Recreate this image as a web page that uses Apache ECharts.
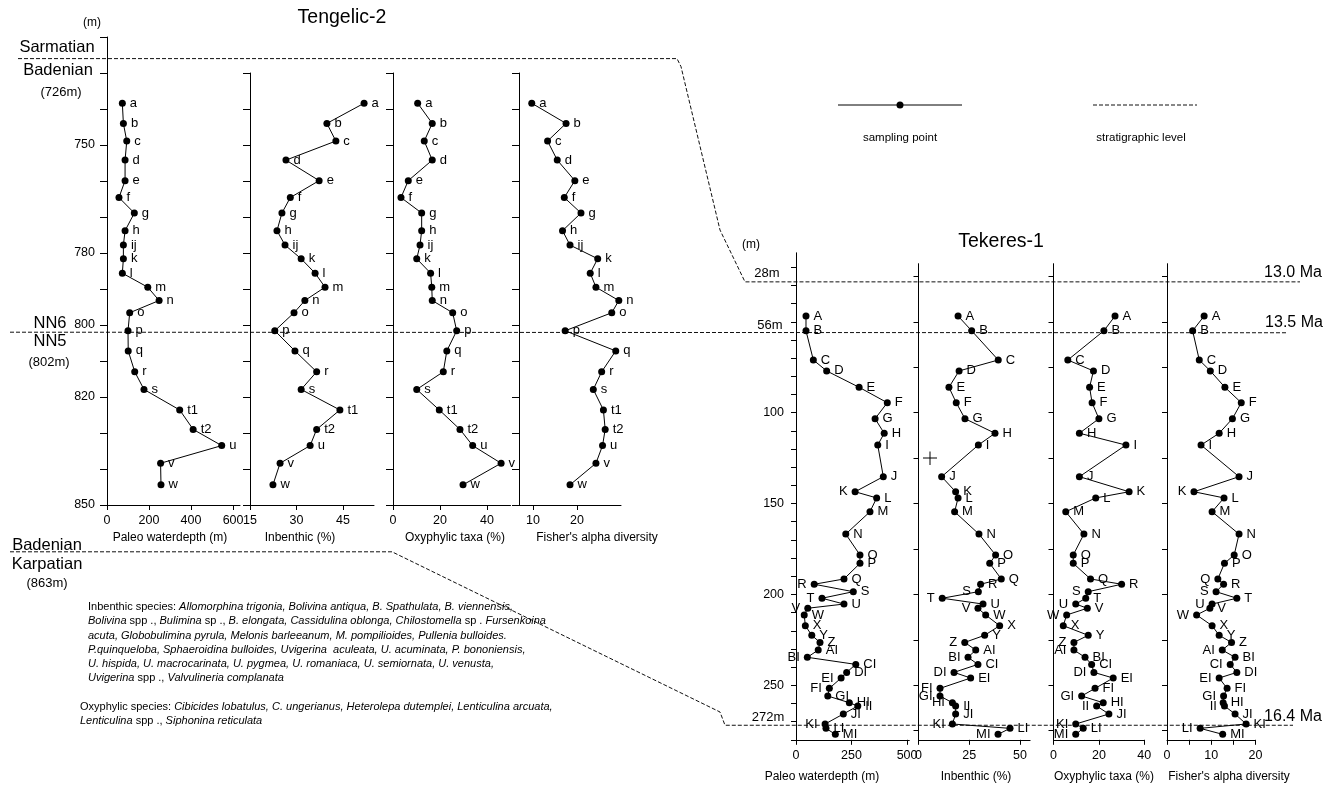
<!DOCTYPE html>
<html><head><meta charset="utf-8">
<script src="https://cdn.jsdelivr.net/npm/echarts@6/dist/echarts.min.js"></script>
<style>html,body{margin:0;padding:0;background:#fff}#c{width:1325px;height:787px}</style>
</head><body><div id="c"></div>
<script>
// ---------------- DATA ----------------
// Tengelic-2 borehole
const tengelicSamples = ['a','b','c','d','e','f','g','h','ij','k','l','m','n','o','p','q','r','s','t1','t2','u','v','w'];
const tengelicDepth = [738.4,744,748.9,754.2,759.9,764.6,768.9,773.8,777.8,781.6,785.6,789.5,793.2,796.6,801.6,807.2,813,817.9,823.6,829,833.5,838.4,844.4];
const tengelicPaleo = [73,78,94,86,86,57,130,86,78,78,73,194,248,108,100,101,132,176,346,410,546,255,257];
const tengelicInbenthic = [51.8,39.8,42.7,26.6,37.3,28,25.3,23.7,26.3,31.5,36,39.2,32.7,29.2,23,29.5,36.5,31.5,44,36.5,34.4,24.7,22.4];
const tengelicOxyphylic = [10.5,16.7,13.3,16.7,6.5,3.4,12.2,12.2,11.5,10.1,16,16.5,16.7,25.4,27.1,22.9,21.4,10.1,19.7,28.5,33.9,46,29.8];
const tengelicFisher = [9.7,17.5,13.3,15.5,19.5,17.1,20.9,16.7,18.4,24.7,23,24.3,29.5,27.9,17.3,28.8,25.6,23.7,26,26.4,25.8,24.3,18.4];

// Tekeres-1 borehole
const tekeresSamples = ['A','B','C','D','E','F','G','H','I','J','K','L','M','N','O','P','Q','R','S','T','U','V','W','X','Y','Z','AI','BI','CI','DI','EI','FI','GI','HI','II','JI','KI','LI','MI'];
const tekeresDepth = [46.8,54.9,71,77,86,94.5,103.3,111.3,117.8,135.2,143.5,146.9,154.5,166.8,178.3,182.9,191.5,194.4,198.5,202.1,205.3,207.6,211.3,217.2,222.5,226.4,230.6,234.6,238.5,242.9,246,251.7,255.9,259.6,261.4,265.8,271.3,273.7,277];
const tekeresPaleo = [45,45,78,138,284,411,356,397,368,393,266,363,333,224,288,288,216,82,258,117,216,53,37,42,71,108,100,51,269,228,203,150,143,240,278,213,131,135,177];
const tekeresInbenthic = [19.5,26.2,39.3,20,15,18.6,22.9,37.7,29.5,11.4,18.3,19.5,17.8,29.8,38,35.1,40.8,30.6,29.5,11.7,31.8,29.3,33.1,40,32.6,22.8,28.2,24.4,29.3,17.5,25.7,10.6,10.6,16.7,18.3,18.3,16.7,45.1,39.2];
const tekeresOxyphylic = [27.1,22.2,6.3,17.6,15.9,17,20,11.4,31.9,11.4,33.3,18.6,5.4,13.4,8.7,8.7,16.3,30,15.3,14.2,9.8,14.9,5.8,4.3,15.3,9,9,13.9,16.8,17.8,26.3,18.3,12.4,21.9,19,24.4,9.8,13.1,9.8];
const tekeresFisher = [8.4,5.8,7.3,9.8,13.1,16.8,14.8,11.8,7.7,16.3,6.1,12.9,10.2,16.3,15.2,13,11.5,12.8,11.1,15.8,10.2,9.7,6.7,10.2,11.8,14.6,12.5,15.4,14.3,15.8,11.8,13.6,12.8,12.7,13,15.4,17.9,7.5,12.6];

// stratigraphic levels (m)
const tengelicLevels = {sarmatianBase: 726, nn6nn5: 802, karpatianTop: 863};
const tekeresLevels = {ma13_0: 28, ma13_5: 56, ma16_4: 272};

// tick labels
const tengelicDepthLabels = [750,780,800,820,850];
const tekeresDepthLabels = [100,150,200,250];

// ---------------- STYLE / LAYOUT ----------------
const FONT = "'Liberation Sans', Arial, Helvetica, sans-serif";
function range(a,b,s){const r=[];for(let v=a;v<=b+1e-9;v+=s)r.push(+v.toFixed(4));return r;}

// labels drawn on the left of the point (placement only)
const leftLabels = [[],[],[],[],
  ['K','R','T','V','BI','EI','FI','KI'],
  ['S','T','V','Z','BI','DI','FI','GI','HI','KI','MI'],
  ['S','U','W','Z','AI','DI','GI','II','KI','MI'],
  ['K','Q','S','U','W','AI','CI','EI','GI','II','LI']];

const panels = [
  // Tengelic-2
  {left:107, top:37, width:133, height:468, xMin:0, xMax:633, xTicks:[0,200,400,600], xLabels:[0,200,400,600], yMin:720, yMax:850, yTicks:range(720,850,10), yLabels:tengelicDepthLabels, xs:tengelicPaleo, ys:tengelicDepth, names:tengelicSamples},
  {left:250, top:73, width:124, height:432, xMin:15, xMax:55, xTicks:[15,30,45], xLabels:[15,30,45], yMin:730, yMax:850, yTicks:range(730,850,10), yLabels:null, xs:tengelicInbenthic, ys:tengelicDepth, names:tengelicSamples},
  {left:393, top:73, width:117.5, height:432, xMin:0, xMax:50, xTicks:[0,20,40], xLabels:[0,20,40], yMin:730, yMax:850, yTicks:range(730,850,10), yLabels:null, xs:tengelicOxyphylic, ys:tengelicDepth, names:tengelicSamples},
  {left:519, top:73, width:102, height:432, xMin:6.8, xMax:30, xTicks:[10,20], xLabels:[10,20], yMin:730, yMax:850, yTicks:range(730,850,10), yLabels:null, xs:tengelicFisher, ys:tengelicDepth, names:tengelicSamples},
  // Tekeres-1
  {left:796, top:252.8, width:113.3, height:487, xMin:0, xMax:510, xTicks:[0,250,500], xLabels:[0,250,500], yMin:12, yMax:280, yTicks:range(20,280,10), yLabels:tekeresDepthLabels, xs:tekeresPaleo, ys:tekeresDepth, names:tekeresSamples},
  {left:918.5, top:263.7, width:111.6, height:476.1, xMin:0, xMax:55, xTicks:[0,25,50], xLabels:[0,25,50], yMin:18, yMax:280, yTicks:range(25,275,25), yLabels:null, xs:tekeresInbenthic, ys:tekeresDepth, names:tekeresSamples},
  {left:1053.5, top:263.7, width:90.8, height:476.1, xMin:0, xMax:40, xTicks:[0,20,40], xLabels:[0,20,40], yMin:18, yMax:280, yTicks:range(25,275,25), yLabels:null, xs:tekeresOxyphylic, ys:tekeresDepth, names:tekeresSamples},
  {left:1167, top:263.7, width:88.4, height:476.1, xMin:0, xMax:20, xTicks:[0,5,10,15,20], xLabels:[0,10,20], yMin:18, yMax:280, yTicks:range(25,275,25), yLabels:null, xs:tekeresFisher, ys:tekeresDepth, names:tekeresSamples}
];

const grid=[], xAxis=[], yAxis=[], series=[];
panels.forEach((p,i)=>{
  grid.push({left:p.left, top:p.top, width:p.width, height:p.height, containLabel:false, outerBoundsMode:'none'});
  xAxis.push({type:'value', gridIndex:i, min:p.xMin, max:p.xMax, position:'bottom',
    axisLine:{show:true, onZero:false, lineStyle:{color:'#000', width:1}},
    axisTick:{show:true, length:5, lineStyle:{color:'#000'}, customValues:p.xTicks},
    axisLabel:{show:true, color:'#000', fontSize:12.5, fontFamily:FONT, margin:9, customValues:p.xLabels},
    splitLine:{show:false}});
  yAxis.push({type:'value', gridIndex:i, inverse:true, min:p.yMin, max:p.yMax, position:'left',
    axisLine:{show:true, onZero:false, lineStyle:{color:'#000', width:1}},
    axisTick:{show:true, length:i<4?7:5, lineStyle:{color:'#000'}, customValues:p.yTicks},
    axisLabel:{show:!!p.yLabels, color:'#000', fontSize:12.5, fontFamily:FONT, margin:12, customValues:p.yLabels||[]},
    splitLine:{show:false}});
  const lefts = leftLabels[i];
  series.push({type:'line', xAxisIndex:i, yAxisIndex:i, silent:true, clip:false, animation:false,
    symbol:'circle', symbolSize:7,
    itemStyle:{color:'#000'}, lineStyle:{color:'#000', width:1},
    emphasis:{disabled:true},
    label:{show:true, position:'right', distance:4, formatter:'{b}', color:'#000', fontSize:13, fontFamily:FONT},
    data:p.xs.map((x,k)=>{
      const it={name:p.names[k], value:[x, p.ys[k]]};
      if(lefts.includes(p.names[k])) it.label={position:'left'};
      return it;
    })});
});

const chart = echarts.init(document.getElementById('c'), null, {renderer:'canvas', width:1325, height:787});
chart.setOption({animation:false, backgroundColor:'#fff', grid, xAxis, yAxis, series});

const yT = v => chart.convertToPixel({yAxisIndex:0}, v);
const yK = v => chart.convertToPixel({yAxisIndex:4}, v);

function txt(t,x,y,size){
  return {type:'text', x, y, silent:true, style:{text:t, fill:'#000', font: size+'px '+FONT,
    fontSize:size, fontFamily:FONT, textAlign:'center', align:'center', textVerticalAlign:'middle', verticalAlign:'middle'}};
}
const dash = {stroke:'#111', lineWidth:1, lineDash:[4,2], fill:null};
const g = [];
// stratigraphic dashed lines
const y726=yT(tengelicLevels.sarmatianBase), y802=yT(tengelicLevels.nn6nn5), y863=yT(tengelicLevels.karpatianTop);
const y28=yK(tekeresLevels.ma13_0), y56=yK(tekeresLevels.ma13_5), y272=yK(tekeresLevels.ma16_4);
g.push({type:'polyline', silent:true, shape:{points:[[18,y726],[677,y726],[681,y726+8],[720,230],[745,y28],[1300,y28]]}, style:dash});
g.push({type:'polyline', silent:true, shape:{points:[[10,y802],[1287,y56]]}, style:dash});
g.push({type:'polyline', silent:true, shape:{points:[[10,y863],[392,y863],[720,712],[725,y272],[1293,y272]]}, style:dash});

// texts
const texts = [
  ['(m)',92,23,12],['Sarmatian',57,47,16.5],['Badenian',58,70,16.5],['(726m)',61,92,13],
  ['NN6',50,323,16.5],['NN5',50,341,16.5],['(802m)',49,362,13],
  ['Badenian',47,545,16.5],['Karpatian',47,564,16.5],['(863m)',47,583,13],
  ['Tengelic-2',342,18,19.5],['Tekeres-1',1001,242,19.5],['(m)',751,245,12],
  ['28m',767,273,13],['56m',770,325,13],['272m',768,717,13],
  ['13.0 Ma',1293,273,16],['13.5 Ma',1294,323,16],['16.4 Ma',1293,717,16],
  ['sampling point',900,138,11.5],['stratigraphic level',1141,138,11.5],
  ['Paleo waterdepth (m)',170,538,12],['Inbenthic (%)',300,538,12],['Oxyphylic taxa (%)',455,538,12],["Fisher's alpha diversity",597,538,12],
  ['Paleo waterdepth (m)',822,777,12],['Inbenthic (%)',976,777,12],['Oxyphylic taxa (%)',1104,777,12],["Fisher's alpha diversity",1229,777,12]
];
texts.forEach(t=>g.push(txt(t[0],t[1],t[2],t[3])));

// legend
g.push({type:'line', silent:true, shape:{x1:838,y1:105,x2:962,y2:105}, style:{stroke:'#000', lineWidth:1}});
g.push({type:'circle', silent:true, shape:{cx:900,cy:105,r:3.5}, style:{fill:'#000'}});
g.push({type:'line', silent:true, shape:{x1:1093,y1:105,x2:1197,y2:105}, style:{stroke:'#111', lineWidth:1, lineDash:[4,2]}});
// cross mark
g.push({type:'line', silent:true, shape:{x1:923,y1:458,x2:937,y2:458}, style:{stroke:'#000', lineWidth:1}});
g.push({type:'line', silent:true, shape:{x1:930,y1:451.5,x2:930,y2:465}, style:{stroke:'#000', lineWidth:1}});

// species notes
const rich = {r:{fontSize:11, fontFamily:FONT, fill:'#000'}, i:{fontSize:11, fontFamily:FONT, fontStyle:'italic', fill:'#000'}};
const notes = [
  ['{r|Inbenthic species: }{i|Allomorphina trigonia, Bolivina antiqua, B. Spathulata, B. viennensis,}',88,607],
  ['{i|Bolivina }{r|spp ., }{i|Bulimina }{r|sp ., }{i|B. elongata, Cassidulina oblonga, Chilostomella }{r|sp . }{i|Fursenkoina}',88,621],
  ['{i|acuta, Globobulimina pyrula, Melonis barleeanum, M. pompilioides, Pullenia bulloides.}',88,636],
  ['{i|P.quinqueloba, Sphaeroidina bulloides, Uvigerina  aculeata, U. acuminata, P. bononiensis,}',88,650],
  ['{i|U. hispida, U. macrocarinata, U. pygmea, U. romaniaca, U. semiornata, U. venusta,}',88,664],
  ['{i|Uvigerina }{r|spp ., }{i|Valvulineria complanata}',88,678],
  ['{r|Oxyphylic species: }{i|Cibicides lobatulus, C. ungerianus, Heterolepa dutemplei, Lenticulina arcuata,}',80,707],
  ['{i|Lenticulina }{r|spp ., }{i|Siphonina reticulata}',80,721]
];
notes.forEach(n=>g.push({type:'text', x:n[1], y:n[2], silent:true, style:{text:n[0], rich, fill:'#000', fontSize:11, fontFamily:FONT,
  textAlign:'left', align:'left', textVerticalAlign:'middle', verticalAlign:'middle'}}));

chart.setOption({graphic:{elements:g}});
</script></body></html>
